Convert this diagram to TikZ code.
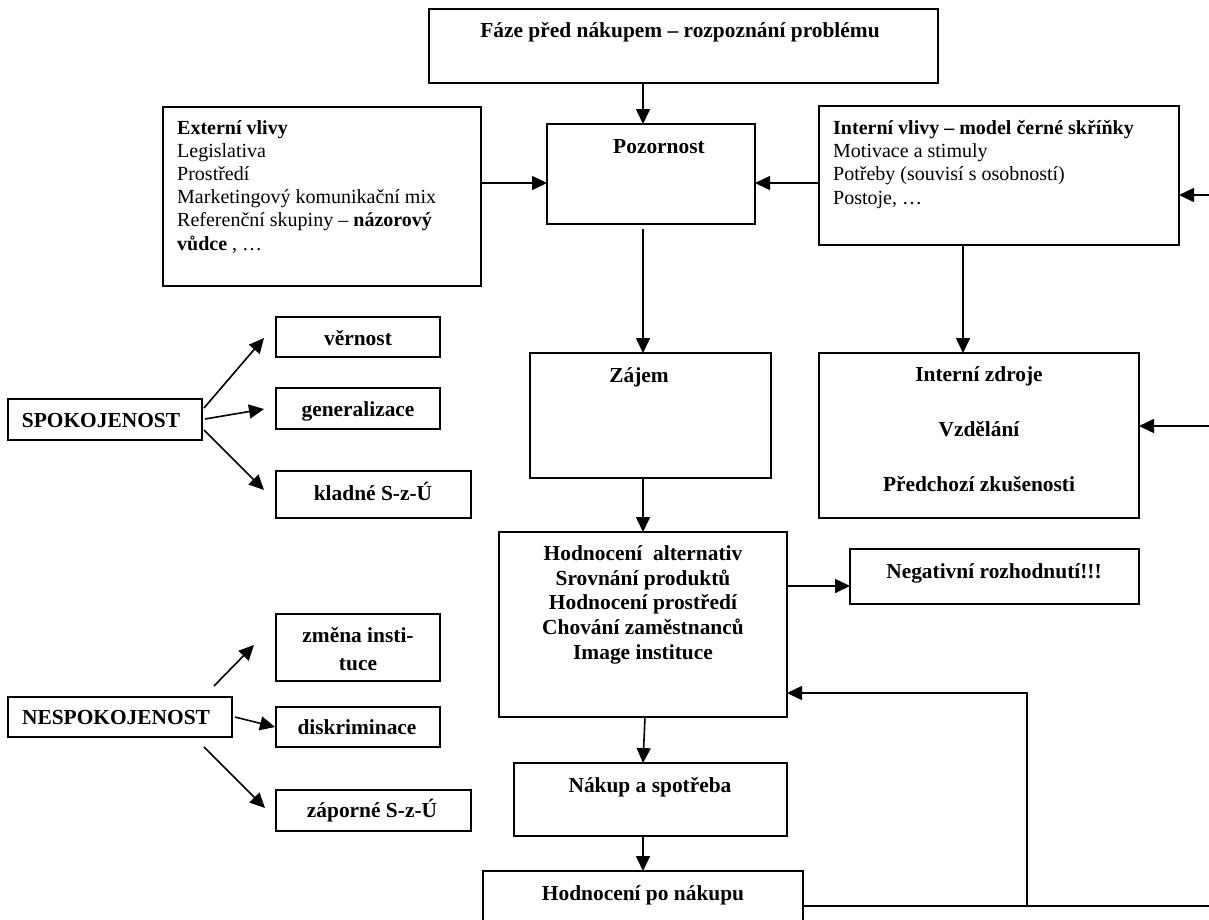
\documentclass[tikz,border=0pt]{standalone}
\usepackage{fontspec}
\setmainfont{Liberation Serif}
\usetikzlibrary{arrows.meta,calc}
\begin{document}
\begin{tikzpicture}[x=1pt,y=-1pt,
 bx/.style={draw, line width=1.6pt, inner sep=0pt, outer sep=0pt, anchor=north west},
 tx/.style={inner sep=0pt, font=\fontsize{20}{23}\selectfont},
 tc/.style={inner sep=0pt, anchor=base, font=\fontsize{21.4}{25}\selectfont\bfseries},
 arr/.style={line width=1.6pt, -{Triangle[length=15pt,width=14pt]}},
 ln/.style={line width=1.6pt}]
\useasboundingbox (0,0) rectangle (1209,919);
\clip (0,0) rectangle (1209,919);
% boxes
\node[bx, minimum width=509pt, minimum height=74pt] (top) at (429,9) {};
\node[bx, minimum width=318pt, minimum height=179pt] (ext) at (163,107) {};
\node[bx, minimum width=208pt, minimum height=100pt] (poz) at (547,124) {};
\node[bx, minimum width=360pt, minimum height=139pt] (intv) at (819,106) {};
\node[bx, minimum width=241pt, minimum height=125pt] (zaj) at (530,353) {};
\node[bx, minimum width=320pt, minimum height=165pt] (intz) at (819,353) {};
\node[bx, minimum width=288pt, minimum height=185pt] (hodn) at (499,532) {};
\node[bx, minimum width=289pt, minimum height=55pt] (neg) at (850,549) {};
\node[bx, minimum width=273pt, minimum height=73pt] (nak) at (514,763) {};
\node[bx, minimum width=320pt, minimum height=80pt] (hpo) at (483,871) {};
\node[bx, minimum width=164pt, minimum height=40pt] (vern) at (276,317) {};
\node[bx, minimum width=164pt, minimum height=41pt] (gen) at (276,388) {};
\node[bx, minimum width=195pt, minimum height=47pt] (klad) at (276,471) {};
\node[bx, minimum width=194pt, minimum height=41pt] (spok) at (8,399) {};
\node[bx, minimum width=164pt, minimum height=67pt] (zmena) at (276,614) {};
\node[bx, minimum width=164pt, minimum height=40pt] (disk) at (276,707) {};
\node[bx, minimum width=195pt, minimum height=41pt] (zap) at (276,790) {};
\node[bx, minimum width=224pt, minimum height=40pt] (nesp) at (8,697) {};
% texts
\node[tc] (ttop) at (680,37) {Fáze před nákupem – rozpoznání problému};
\node[tx, anchor=base west] (e1) at (177,134) {\textbf{Externí vlivy}};
\node[tx, anchor=base west] (e2) at (177,157) {Legislativa};
\node[tx, anchor=base west] (e3) at (177,180) {Prostředí};
\node[tx, anchor=base west] (e4) at (177,203) {Marketingový komunikační mix};
\node[tx, anchor=base west] (e5) at (177,226) {Referenční skupiny – \textbf{názorový}};
\node[tx, anchor=base west] (e6) at (177,250) {\textbf{vůdce} , …};
\node[tc] (tpoz) at (659,153) {Pozornost};
\node[tx, anchor=base west] (i1) at (833,134) {\textbf{Interní vlivy – model černé skříňky}};
\node[tx, anchor=base west] (i2) at (833,157) {Motivace a stimuly};
\node[tx, anchor=base west] (i3) at (833,180) {Potřeby (souvisí s osobností)};
\node[tx, anchor=base west] (i4) at (833,204) {Postoje, …};
\node[tc] (tzaj) at (639,382) {Zájem};
\node[tc] (z1) at (979,381) {Interní zdroje};
\node[tc] (z2) at (979,436) {Vzdělání};
\node[tc] (z3) at (979,491) {Předchozí zkušenosti};
\node[tc] (h1) at (643,560) {Hodnocení\ \ alternativ};
\node[tc] (h2) at (643,585) {Srovnání produktů};
\node[tc] (h3) at (643,609) {Hodnocení prostředí};
\node[tc] (h4) at (643,634) {Chování zaměstnanců};
\node[tc] (h5) at (643,659) {Image instituce};
\node[tc] (tneg) at (994,578) {Negativní rozhodnutí!!!};
\node[tc] (tnak) at (650,792) {Nákup a spotřeba};
\node[tc] (thpo) at (643,900) {Hodnocení po nákupu};
\node[tc] (tvern) at (358,345) {věrnost};
\node[tc] (tgen) at (358,416) {generalizace};
\node[tc] (tklad) at (373,500) {kladné S-z-Ú};
\node[tc] (tspok) at (101,427) {SPOKOJENOST};
\node[tc] (tzm1) at (358,642) {změna insti-};
\node[tc] (tzm2) at (358,670) {tuce};
\node[tc] (tdisk) at (357,734) {diskriminace};
\node[tc] (tzap) at (372,817) {záporné S-z-Ú};
\node[tc] (tnesp) at (116,724) {NESPOKOJENOST};
% helper coordinates
\coordinate (xa) at (643,0);
\coordinate (xb) at (963,0);
\coordinate (xc) at (1027,0);
\coordinate (ya) at (0,183);
\coordinate (yb) at (0,586);
\coordinate (yc) at (0,693);
\coordinate (yd) at (0,906);
\coordinate (rin1) at (1215,195);
\coordinate (rin2) at (1215,426);
\coordinate (rout) at (1215,906);
% main connectors
\draw[arr] (xa |- top.south) -- (xa |- poz.north);
\draw[arr] (ext.east |- ya) -- (poz.west |- ya);
\draw[arr] (intv.west |- ya) -- (poz.east |- ya);
\draw[arr] (rin1) -- (intv.east |- rin1);
\draw[arr, shorten <=5pt] (xa |- poz.south) -- (xa |- zaj.north);
\draw[arr] (xb |- intv.south) -- (xb |- intz.north);
\draw[arr] (rin2) -- (intz.east |- rin2);
\draw[arr] (xa |- zaj.south) -- (xa |- hodn.north);
\draw[arr] (hodn.east |- yb) -- (neg.west |- yb);
\draw[arr] ($(xa |- hodn.south)+(2,0)$) -- (xa |- nak.north);
\draw[arr] (xa |- nak.south) -- (xa |- hpo.north);
\draw[ln] (hpo.east |- yd) -- (rout);
\draw[arr] (xc |- yd) -- (xc |- yc) -- (hodn.east |- yc);
% satisfaction arrows
\coordinate (s1a) at (204,408); \coordinate (s1b) at (264,338);
\coordinate (s2a) at (205,419); \coordinate (s2b) at (264,409);
\coordinate (s3a) at (204,430); \coordinate (s3b) at (264,490);
\draw[arr] (s1a) -- (s1b);
\draw[arr] (s2a) -- (s2b);
\draw[arr] (s3a) -- (s3b);
\coordinate (n1a) at (214,686); \coordinate (n1b) at (254,645);
\coordinate (n2a) at (235,717); \coordinate (n2b) at (275,727);
\coordinate (n3a) at (204,747); \coordinate (n3b) at (265,808);
\draw[arr] (n1a) -- (n1b);
\draw[arr] (n2a) -- (n2b);
\draw[arr] (n3a) -- (n3b);
\end{tikzpicture}
\end{document}
